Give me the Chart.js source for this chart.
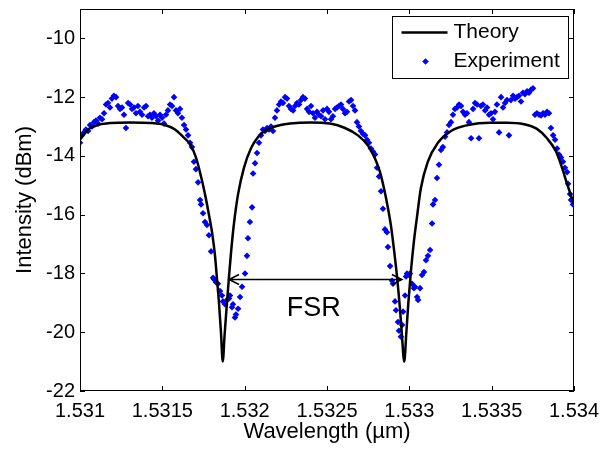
<!DOCTYPE html>
<html>
<head>
<meta charset="utf-8">
<script src="https://cdn.jsdelivr.net/npm/chart.js@4.4.1/dist/chart.umd.min.js"></script>
<style>
  html, body { margin: 0; padding: 0; background: #fff; }
  #wrap { width: 613px; height: 449px; }
</style>
</head>
<body>
<div id="wrap"><canvas id="fsrChart" width="613" height="449"></canvas></div>
<script>
// axis ticks
const xTicks = [1.531, 1.5315, 1.532, 1.5325, 1.533, 1.5335, 1.534];
const yTicks = [-22, -20, -18, -16, -14, -12, -10];

// theory curve
const theoryX = [
  1.531000, 1.531049, 1.531109, 1.531188, 1.531304, 1.531431, 1.531516, 1.531577,
  1.531626, 1.531668, 1.531704, 1.531735, 1.531759, 1.531783, 1.531802, 1.531820,
  1.531832, 1.531844, 1.531856, 1.531867, 1.531878, 1.531891, 1.531905, 1.531917,
  1.531935, 1.531960, 1.531996, 1.532038, 1.532099, 1.532184, 1.532275, 1.532403,
  1.532518, 1.532609, 1.532688, 1.532749, 1.532792, 1.532822, 1.532846, 1.532871,
  1.532889, 1.532907, 1.532925, 1.532943, 1.532955, 1.532969, 1.532982, 1.532994,
  1.533010, 1.533028, 1.533046, 1.533070, 1.533112, 1.533174, 1.533253, 1.533356,
  1.533490, 1.533593, 1.533696, 1.533775, 1.533836, 1.533891, 1.533927, 1.533958,
  1.533982, 1.534000
];
const theoryY = [
  -13.45, -13.10, -12.95, -12.88, -12.86, -12.88, -12.95, -13.10,
  -13.35, -13.60, -14.05, -14.70, -15.30, -16.00, -16.60, -17.40,
  -18.20, -19.00, -20.00, -21.00, -20.10, -19.10, -18.10, -17.30,
  -16.30, -15.30, -14.40, -13.75, -13.25, -13.00, -12.90, -12.86,
  -12.90, -13.05, -13.30, -13.65, -14.10, -14.55, -15.10, -15.80,
  -16.40, -17.20, -18.10, -19.20, -20.10, -21.00, -20.00, -19.00,
  -17.90, -16.90, -16.10, -15.10, -14.20, -13.55, -13.15, -12.95,
  -12.87, -12.87, -12.92, -13.08, -13.40, -13.85, -14.40, -14.95,
  -15.35, -15.65
];

// measured points
const expX = [
  1.531000, 1.531012, 1.531024, 1.531036, 1.531049, 1.531061, 1.531073, 1.531085,
  1.531097, 1.531109, 1.531121, 1.531134, 1.531146, 1.531158, 1.531170, 1.531182,
  1.531194, 1.531206, 1.531219, 1.531231, 1.531243, 1.531255, 1.531267, 1.531279,
  1.531292, 1.531304, 1.531316, 1.531328, 1.531340, 1.531352, 1.531364, 1.531377,
  1.531389, 1.531401, 1.531413, 1.531425, 1.531437, 1.531449, 1.531462, 1.531474,
  1.531486, 1.531498, 1.531510, 1.531522, 1.531534, 1.531547, 1.531559, 1.531571,
  1.531583, 1.531595, 1.531607, 1.531619, 1.531632, 1.531644, 1.531656, 1.531668,
  1.531680, 1.531692, 1.531704, 1.531717, 1.531729, 1.531735, 1.531747, 1.531759,
  1.531771, 1.531783, 1.531796, 1.531808, 1.531814, 1.531826, 1.531838, 1.531850,
  1.531862, 1.531868, 1.531881, 1.531893, 1.531905, 1.531911, 1.531923, 1.531929,
  1.531941, 1.531947, 1.531960, 1.531972, 1.531984, 1.532002, 1.532014, 1.532020,
  1.532032, 1.532045, 1.532051, 1.532063, 1.532075, 1.532087, 1.532099, 1.532111,
  1.532124, 1.532136, 1.532148, 1.532160, 1.532172, 1.532184, 1.532196, 1.532209,
  1.532221, 1.532233, 1.532245, 1.532257, 1.532269, 1.532281, 1.532294, 1.532306,
  1.532318, 1.532330, 1.532342, 1.532354, 1.532366, 1.532379, 1.532391, 1.532403,
  1.532415, 1.532427, 1.532439, 1.532451, 1.532464, 1.532476, 1.532488, 1.532500,
  1.532512, 1.532524, 1.532536, 1.532549, 1.532561, 1.532573, 1.532585, 1.532597,
  1.532609, 1.532621, 1.532634, 1.532646, 1.532658, 1.532670, 1.532682, 1.532694,
  1.532706, 1.532719, 1.532731, 1.532743, 1.532755, 1.532767, 1.532779, 1.532792,
  1.532804, 1.532816, 1.532828, 1.532840, 1.532852, 1.532864, 1.532870, 1.532883,
  1.532895, 1.532901, 1.532913, 1.532919, 1.532931, 1.532937, 1.532949, 1.532956,
  1.532962, 1.532974, 1.532980, 1.532986, 1.532998, 1.533004, 1.533016, 1.533028,
  1.533034, 1.533047, 1.533053, 1.533065, 1.533077, 1.533089, 1.533101, 1.533113,
  1.533126, 1.533138, 1.533144, 1.533156, 1.533168, 1.533180, 1.533192, 1.533204,
  1.533217, 1.533229, 1.533241, 1.533253, 1.533265, 1.533277, 1.533290, 1.533302,
  1.533314, 1.533326, 1.533338, 1.533350, 1.533362, 1.533375, 1.533387, 1.533399,
  1.533411, 1.533423, 1.533435, 1.533447, 1.533460, 1.533472, 1.533484, 1.533496,
  1.533508, 1.533520, 1.533532, 1.533545, 1.533557, 1.533569, 1.533581, 1.533593,
  1.533605, 1.533617, 1.533630, 1.533642, 1.533654, 1.533666, 1.533678, 1.533690,
  1.533702, 1.533715, 1.533727, 1.533739, 1.533751, 1.533763, 1.533775, 1.533788,
  1.533800, 1.533812, 1.533824, 1.533836, 1.533848, 1.533860, 1.533873, 1.533885,
  1.533897, 1.533909, 1.533921, 1.533933, 1.533945, 1.533958, 1.533964, 1.533976,
  1.533982, 1.533994
];
const expY = [
  -13.55, -13.30, -13.20, -13.10, -13.15, -12.95, -13.00, -12.85,
  -12.80, -12.90, -12.70, -12.75, -12.55, -12.25, -12.20, -12.35,
  -12.05, -11.95, -12.00, -12.30, -12.40, -12.35, -12.60, -13.05,
  -12.20, -12.25, -12.40, -12.35, -12.55, -12.30, -12.50, -12.60,
  -12.35, -12.30, -12.65, -12.60, -12.70, -12.55, -12.65, -12.80,
  -12.60, -12.70, -12.90, -12.60, -12.45, -12.25, -12.30, -12.00,
  -12.45, -12.55, -12.40, -12.70, -12.95, -13.10, -13.30, -13.55,
  -13.70, -14.20, -14.45, -14.90, -15.50, -15.65, -15.95, -16.25,
  -16.35, -16.70, -17.25, -18.15, -18.20, -18.30, -18.35, -18.60,
  -18.75, -18.95, -19.05, -18.90, -18.85, -18.75, -19.15, -19.05,
  -19.50, -19.40, -19.20, -18.80, -18.45, -18.00, -17.40, -16.80,
  -16.25, -15.75, -14.60, -14.25, -13.90, -13.55, -13.30, -13.10,
  -13.15, -13.05, -13.10, -13.00, -13.15, -12.70, -12.45, -12.25,
  -12.15, -12.20, -12.00, -12.05, -12.30, -12.40, -12.45, -12.30,
  -12.20, -12.25, -12.10, -12.00, -12.05, -12.40, -12.50, -12.30,
  -12.55, -12.70, -12.50, -12.60, -12.65, -12.45, -12.75, -12.40,
  -12.50, -12.75, -12.65, -12.40, -12.35, -12.30, -12.25, -12.40,
  -12.55, -12.50, -12.15, -12.10, -12.30, -12.45, -12.85, -13.00,
  -13.15, -13.25, -13.30, -13.45, -13.55, -13.75, -13.85, -13.95,
  -14.40, -14.70, -15.20, -15.80, -16.50, -16.60, -17.10, -17.75,
  -18.25, -18.35, -18.95, -19.25, -19.65, -19.95, -20.15, -19.75,
  -19.30, -18.75, -18.10, -18.00, -18.05, -18.00, -18.35, -18.50,
  -18.45, -18.80, -18.90, -18.50, -18.05, -17.95, -17.55, -17.40,
  -17.20, -16.30, -15.65, -15.50, -14.75, -14.30, -13.80, -13.70,
  -13.35, -13.20, -12.95, -12.85, -12.60, -12.40, -12.35, -12.25,
  -12.30, -12.50, -12.60, -12.55, -12.85, -13.40, -12.40, -12.20,
  -12.25, -13.40, -12.30, -12.25, -12.45, -12.35, -12.60, -12.55,
  -12.75, -12.50, -12.25, -13.20, -12.00, -12.35, -12.20, -12.10,
  -13.30, -12.10, -11.95, -12.05, -12.00, -11.95, -12.15, -11.85,
  -11.90, -11.80, -11.85, -11.75, -11.70, -12.60, -12.55, -12.60,
  -12.62, -12.55, -12.60, -12.50, -12.55, -13.05, -13.30, -13.45,
  -13.75, -13.95, -14.05, -14.20, -14.40, -14.55, -14.95, -15.30,
  -15.50, -15.65
];

// FSR annotation (data units)
const fsrFrom = 1.531905;
const fsrTo = 1.532955;
const fsrLevel = -18.2;
const fsrLabelAt = [1.532420, -19.2];

const FONT = "'Liberation Sans', Arial, sans-serif";

const framePlugin = {
  id: 'frame',
  afterDatasetsDraw(chart) {
    const {ctx, chartArea: a, scales: {x, y}} = chart;
    ctx.save();
    ctx.strokeStyle = '#000';
    ctx.lineWidth = 1;
    // box
    ctx.strokeRect(Math.round(a.left) + 0.5, Math.round(a.top) + 0.5,
      Math.round(a.width) - 1, Math.round(a.height) - 1);
    // inward ticks
    const tl = 5;
    ctx.beginPath();
    xTicks.forEach(v => {
      const px = Math.round(x.getPixelForValue(v)) + 0.5;
      ctx.moveTo(px, a.bottom); ctx.lineTo(px, a.bottom - tl);
      ctx.moveTo(px, a.top); ctx.lineTo(px, a.top + tl);
    });
    yTicks.forEach(v => {
      const py = Math.round(y.getPixelForValue(v)) + 0.5;
      ctx.moveTo(a.left, py); ctx.lineTo(a.left + tl, py);
      ctx.moveTo(a.right, py); ctx.lineTo(a.right - tl, py);
    });
    ctx.stroke();

    // FSR double arrow
    const x1 = x.getPixelForValue(fsrFrom);
    const x2 = x.getPixelForValue(fsrTo);
    const yl = Math.round(y.getPixelForValue(fsrLevel)) + 0.5;
    ctx.lineWidth = 1.5;
    ctx.beginPath();
    ctx.moveTo(x1, yl); ctx.lineTo(x2, yl);
    ctx.moveTo(x1 + 10, yl - 5); ctx.lineTo(x1, yl); ctx.lineTo(x1 + 10, yl + 5);
    ctx.moveTo(x2 - 10, yl - 5); ctx.lineTo(x2, yl); ctx.lineTo(x2 - 10, yl + 5);
    ctx.stroke();
    ctx.fillStyle = '#000';
    ctx.font = '27px ' + FONT;
    ctx.textAlign = 'center';
    ctx.textBaseline = 'middle';
    ctx.fillText('FSR', x.getPixelForValue(fsrLabelAt[0]), y.getPixelForValue(fsrLabelAt[1]));
    ctx.restore();
  },
  afterDraw(chart) {
    // legend box in the upper right corner
    const {ctx, chartArea: a} = chart;
    const ds = chart.data.datasets;
    const bw = 176, bh = 62;
    const bx = Math.round(a.right - 6 - bw) + 0.5;
    const by = Math.round(a.top + 7) + 0.5;
    ctx.save();
    ctx.fillStyle = '#fff';
    ctx.fillRect(bx, by, bw, bh);
    ctx.strokeStyle = '#000';
    ctx.lineWidth = 1;
    ctx.strokeRect(bx, by, bw, bh);
    ctx.font = '21px ' + FONT;
    ctx.textAlign = 'left';
    ctx.textBaseline = 'middle';
    ctx.fillStyle = '#000';
    // theory entry
    ctx.strokeStyle = ds[0].borderColor;
    ctx.lineWidth = ds[0].borderWidth;
    ctx.beginPath();
    ctx.moveTo(bx + 9, by + 16); ctx.lineTo(bx + 55, by + 16);
    ctx.stroke();
    ctx.fillText(ds[0].label, bx + 61, by + 16);
    // experiment entry
    ctx.fillStyle = ds[1].backgroundColor;
    const mx = bx + 33, my = by + 45, r = 3.3;
    ctx.beginPath();
    ctx.moveTo(mx, my - r); ctx.lineTo(mx + r, my); ctx.lineTo(mx, my + r); ctx.lineTo(mx - r, my);
    ctx.closePath();
    ctx.fill();
    ctx.fillStyle = '#000';
    ctx.fillText(ds[1].label, bx + 61, by + 45);
    ctx.restore();
  }
};

new Chart(document.getElementById('fsrChart'), {
  type: 'scatter',
  data: {
    datasets: [
      {
        label: 'Theory',
        data: theoryX.map((v, i) => ({x: v, y: theoryY[i]})),
        showLine: true,
        borderColor: '#000',
        backgroundColor: '#000',
        borderWidth: 2.5,
        pointRadius: 0,
        cubicInterpolationMode: 'monotone'
      },
      {
        label: 'Experiment',
        data: expX.map((v, i) => ({x: v, y: expY[i]})),
        showLine: false,
        pointStyle: 'rectRot',
        pointRadius: 3.3,
        borderWidth: 0,
        backgroundColor: '#0000ff',
        borderColor: '#0000ff'
      }
    ]
  },
  options: {
    responsive: false,
    animation: false,
    layout: {padding: {top: 9, right: 39, left: 0, bottom: 0}},
    plugins: {legend: {display: false}, tooltip: {enabled: false}},
    scales: {
      x: {
        type: 'linear',
        min: 1.531,
        max: 1.534,
        afterBuildTicks: s => { s.ticks = xTicks.map(v => ({value: v})); },
        afterFit: s => { s.height = 58; s.paddingLeft = 0; s.paddingRight = 0; },
        grid: {display: false, drawTicks: false},
        border: {display: false},
        ticks: {
          color: '#000',
          padding: 8,
          maxRotation: 0,
          font: {family: FONT, size: 20},
          callback: v => String(v)
        },
        title: {
          display: true,
          text: 'Wavelength (µm)',
          color: '#000',
          font: {family: FONT, size: 22},
          padding: {top: 0, bottom: 4}
        }
      },
      y: {
        min: -22,
        max: -9,
        afterBuildTicks: s => { s.ticks = yTicks.map(v => ({value: v})); },
        afterFit: s => { s.width = 80; s.paddingTop = 0; s.paddingBottom = 0; },
        grid: {display: false, drawTicks: false},
        border: {display: false},
        ticks: {
          color: '#000',
          padding: 5,
          font: {family: FONT, size: 20},
          callback: v => String(v)
        },
        title: {
          display: true,
          text: 'Intensity (dBm)',
          color: '#000',
          font: {family: FONT, size: 22},
          padding: {top: 12, bottom: 0}
        }
      }
    }
  },
  plugins: [framePlugin]
});
</script>
</body>
</html>
